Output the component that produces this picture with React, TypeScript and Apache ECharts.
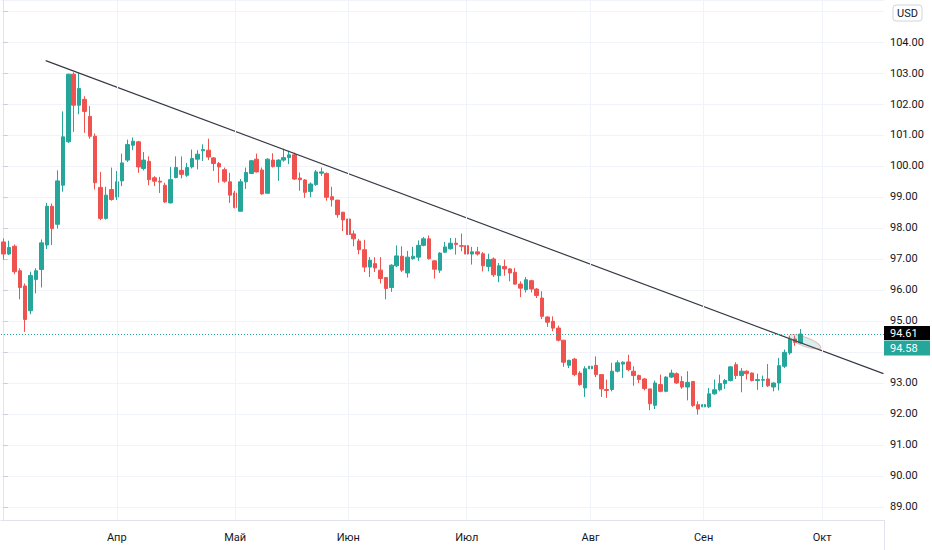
import React, { useEffect, useRef } from "react";
import * as echarts from "echarts";

// Month labels on the time axis and the number of trading bars in each month
const monthNames = ["", "Апр", "Май", "Июн", "Июл", "Авг", "Сен", "Окт"];
const monthBars = [21, 22, 21, 22, 23, 21, 22, 12];

const opens = [
  97.55, 97.16, 97.41, 96.62, 96.13, 95.33, 96.34, 96.66, 97.45, 98.7,
  98.12, 99.38, 100.78, 102.96, 101.96, 102.15, 101.6, 100.96, 99.31, 98.31,
  99.24, 99.0, 99.52, 100.19, 100.67, 100.78, 99.92, 100.15, 99.62, 99.51,
  99.38, 98.81, 99.63, 99.86, 99.7, 99.97, 100.22, 100.49, 100.51, 100.26,
  100.08, 99.88, 99.49, 99.13, 98.54, 99.49, 99.76, 100.22, 99.87, 99.12,
  100.19, 99.98, 100.19, 100.27, 100.36, 99.61, 99.55, 99.18, 99.4, 99.77,
  99.76, 99.01, 98.9, 98.51, 98.29, 97.81, 97.58, 97.3, 96.74, 96.85,
  96.64, 96.4, 96.08, 96.78, 97.09, 96.55, 97.01, 97.06, 97.44, 97.65,
  96.94, 96.64, 97.22, 97.33, 97.51, 97.43, 97.43, 97.16, 97.23, 97.17,
  96.76, 97.0, 96.46, 96.76, 96.68, 96.57, 96.19, 96.01, 96.3, 96.03,
  95.74, 95.13, 94.99, 94.77, 94.38, 93.57, 93.77, 93.32, 92.84, 93.46,
  93.57, 93.27, 92.79, 92.79, 93.38, 93.61, 93.68, 93.38, 93.24, 93.13,
  92.81, 92.28, 92.95, 92.73, 93.19, 93.3, 93.05, 92.87, 93.05, 92.3,
  92.23, 92.23, 92.65, 92.78, 92.98, 93.08, 93.59, 93.24, 93.38, 93.32,
  93.08, 93.09, 93.13, 92.87, 93.0, 93.54, 93.97, 94.42, 94.29,
];

const closes = [
  97.16, 97.37, 96.59, 96.08, 95.05, 96.47, 96.62, 97.52, 98.7, 97.98,
  99.52, 100.94, 102.96, 101.96, 102.5, 101.76, 100.96, 99.46, 98.31, 99.06,
  98.92, 99.49, 100.1, 100.69, 100.8, 99.97, 100.19, 99.56, 99.51, 99.48,
  98.84, 99.56, 99.95, 99.73, 99.95, 100.24, 100.38, 100.53, 100.29, 100.08,
  99.97, 99.51, 99.06, 98.66, 99.49, 99.79, 100.17, 99.81, 99.1, 100.22,
  99.98, 100.19, 100.27, 100.36, 99.58, 99.56, 99.15, 99.42, 99.81, 99.81,
  98.99, 98.91, 98.43, 98.26, 97.79, 97.65, 97.3, 96.74, 96.96, 96.71,
  96.37, 96.05, 96.8, 97.1, 96.64, 97.06, 97.09, 97.44, 97.65, 97.01,
  96.67, 97.19, 97.39, 97.51, 97.47, 97.41, 97.16, 97.23, 97.16, 96.78,
  96.98, 96.49, 96.78, 96.68, 96.55, 96.19, 96.06, 96.33, 96.03, 95.82,
  95.15, 94.96, 94.77, 94.38, 93.67, 93.73, 93.27, 92.95, 93.46, 93.54,
  93.27, 92.81, 92.76, 93.38, 93.65, 93.67, 93.43, 93.24, 93.11, 92.82,
  92.33, 93.0, 92.73, 93.19, 93.32, 93.0, 92.87, 93.02, 92.27, 92.16,
  92.3, 92.65, 92.78, 92.98, 93.08, 93.52, 93.24, 93.38, 93.3, 93.08,
  93.11, 93.11, 92.91, 93.0, 93.56, 93.99, 94.42, 94.31, 94.58,
];

const lows = [
  96.98, 97.13, 96.51, 95.7, 94.65, 95.22, 95.89, 96.08, 97.32, 97.45,
  97.98, 99.17, 100.74, 101.1, 101.67, 101.07, 100.88, 99.24, 98.25, 98.27,
  98.88, 98.9, 99.35, 100.13, 100.51, 99.78, 99.86, 99.38, 99.35, 99.13,
  98.81, 98.79, 99.6, 99.6, 99.65, 99.92, 99.89, 100.16, 100.19, 99.84,
  99.46, 99.46, 98.81, 98.63, 98.54, 99.26, 99.74, 99.79, 99.07, 99.12,
  99.95, 99.52, 100.14, 100.06, 99.55, 99.2, 98.97, 98.99, 99.36, 99.68,
  98.88, 98.69, 98.33, 97.9, 97.76, 97.41, 97.15, 96.58, 96.42, 96.58,
  96.21, 95.7, 95.94, 96.74, 96.58, 96.4, 96.98, 96.94, 97.41, 96.98,
  96.37, 96.55, 97.19, 97.3, 97.14, 97.25, 97.03, 96.82, 97.11, 96.6,
  96.6, 96.42, 96.25, 96.46, 96.28, 96.17, 95.77, 95.92, 95.92, 95.74,
  95.06, 94.81, 94.67, 94.34, 93.52, 93.48, 93.22, 92.91, 92.55, 93.3,
  93.19, 92.55, 92.52, 92.73, 93.34, 93.16, 93.38, 92.91, 93.0, 92.76,
  92.12, 92.16, 92.7, 92.7, 93.16, 92.97, 92.81, 92.44, 92.23, 91.98,
  91.73, 92.19, 92.62, 92.73, 92.81, 93.05, 93.13, 92.7, 93.11, 93.05,
  92.78, 92.87, 92.87, 92.73, 92.76, 93.48, 93.91, 94.2, 94.27,
];

const highs = [
  97.66, 97.59, 97.47, 96.7, 96.21, 96.59, 96.7, 97.63, 98.81, 98.79,
  99.86, 101.76, 102.98, 103.02, 103.0, 102.25, 101.93, 101.05, 99.81, 99.33,
  99.95, 99.84, 100.4, 100.85, 100.92, 100.81, 100.45, 100.31, 99.67, 99.65,
  99.46, 99.97, 100.31, 100.31, 100.1, 100.53, 100.51, 100.7, 100.88, 100.29,
  100.13, 99.95, 99.78, 99.2, 99.58, 99.95, 100.19, 100.4, 99.95, 100.25,
  100.41, 100.22, 100.56, 100.49, 100.43, 99.79, 99.58, 99.47, 99.87, 99.95,
  99.79, 99.33, 98.9, 98.51, 98.29, 97.92, 97.65, 97.62, 97.06, 97.06,
  97.06, 96.42, 96.83, 97.44, 97.41, 97.26, 97.39, 97.6, 97.71, 97.76,
  96.96, 97.22, 97.55, 97.68, 97.68, 97.82, 97.43, 97.39, 97.39, 97.22,
  97.17, 97.05, 96.87, 96.98, 96.71, 96.71, 96.28, 96.42, 96.33, 96.06,
  95.96, 95.15, 95.15, 94.85, 94.38, 93.75, 93.81, 93.38, 93.54, 94.02,
  93.86, 93.27, 93.11, 93.65, 93.73, 93.7, 93.91, 93.54, 93.27, 93.16,
  92.81, 93.08, 93.27, 93.22, 93.43, 93.34, 93.22, 93.38, 93.05, 92.41,
  92.52, 92.84, 93.11, 93.27, 93.13, 93.54, 93.67, 93.48, 93.41, 93.34,
  93.3, 93.24, 93.61, 93.02, 93.81, 94.08, 94.51, 94.53, 94.74,
];

// Trend line drawing: [bar index, price]
const trendStart = [7.8, 103.4];
const trendEnd = [163.4, 93.3];
// Highlight ellipse drawn on the breakout (bar index, price)
const ellipseCenter = [148.8, 94.33];

const lastPrice = 94.58;
const markerPrice = 94.61;
const currency = "USD";
// Price-scale labels that are covered by badges in the reference
const hiddenTicks = [94, 105];

const yMin = 88.58;
const yMax = 105.355;

const GRID_LEFT = 1;
const GRID_RIGHT = 48;
const GRID_BOTTOM = 30;
const FONT = 'Roboto, "Liberation Sans", sans-serif';
const TEXT = "#131722";
const UP = "#26a69a";
const DOWN = "#ef5350";

export default function App() {
  const ref = useRef<HTMLDivElement>(null);

  useEffect(() => {
    if (!ref.current) return;
    const chart = echarts.init(ref.current, undefined, { renderer: "svg" });

    const categories: string[] = [];
    const labelAt: Record<number, string> = {};
    const monthStarts: number[] = [];
    monthBars.forEach((n, m) => {
      if (monthNames[m]) {
        labelAt[categories.length] = monthNames[m];
        monthStarts.push(categories.length);
      }
      for (let d = 0; d < n; d++) categories.push(`${m}-${d}`);
    });
    const N = categories.length;

    const candles = opens.map((o, i) => [o, closes[i], lows[i], highs[i]]);

    chart.setOption({
      animation: false,
      backgroundColor: "#ffffff",
      grid: { left: GRID_LEFT, right: GRID_RIGHT, top: 0, bottom: GRID_BOTTOM, containLabel: false },
      xAxis: [
        {
          type: "category",
          data: categories,
          boundaryGap: true,
          axisLine: { show: true, lineStyle: { color: "#e0e3eb", width: 1 } },
          axisTick: { show: false },
          splitLine: { show: false },
          axisLabel: {
            interval: (idx: number) => labelAt[idx] !== undefined,
            formatter: (_v: string, idx: number) => labelAt[idx] ?? "",
            color: TEXT,
            fontSize: 11,
            fontFamily: FONT,
            margin: 12,
          },
        },
        {
          type: "value",
          min: -0.5,
          max: N - 0.5,
          show: false,
        },
      ],
      yAxis: {
        type: "value",
        position: "right",
        min: yMin,
        max: yMax,
        splitNumber: 16,
        minInterval: 1,
        maxInterval: 1,
        axisLine: { show: true, lineStyle: { color: "#e0e3eb" } },
        axisTick: { show: true, length: 4, lineStyle: { color: "#c9ccd4" } },
        splitLine: { show: true, lineStyle: { color: "#f0f3fa", width: 1 } },
        axisLabel: {
          showMinLabel: false,
          showMaxLabel: false,
          formatter: (v: number) =>
            hiddenTicks.some((h) => Math.abs(h - v) < 1e-6) ? "" : v.toFixed(2),
          color: TEXT,
          fontSize: 11,
          fontFamily: FONT,
          margin: 6,
        },
      },
      series: [
        {
          type: "line",
          xAxisIndex: 1,
          yAxisIndex: 0,
          z: 1,
          silent: true,
          symbol: "none",
          data: [[0, 95]],
          lineStyle: { opacity: 0 },
          markLine: {
            silent: true,
            symbol: "none",
            label: { show: false },
            lineStyle: { color: "#f0f3fa", type: "solid", width: 1 },
            data: monthStarts.map((i) => ({ xAxis: i })),
          },
        },
        {
          type: "candlestick",
          xAxisIndex: 0,
          yAxisIndex: 0,
          z: 2,
          barWidth: 4,
          data: candles,
          itemStyle: {
            color: UP,
            color0: DOWN,
            borderColor: UP,
            borderColor0: DOWN,
            borderWidth: 1,
          },
          markLine: {
            silent: true,
            symbol: "none",
            label: { show: false },
            lineStyle: { color: UP, type: [1, 2], width: 1 },
            data: [{ yAxis: lastPrice }],
          },
        },
        {
          type: "line",
          xAxisIndex: 1,
          yAxisIndex: 0,
          z: 3,
          silent: true,
          symbol: "none",
          data: [trendStart, trendEnd],
          lineStyle: { color: "#363a45", width: 1.2 },
        },
      ],
    });

    const W = chart.getWidth();
    const H = chart.getHeight();
    const plotRight = W - GRID_RIGHT;
    const plotBottom = H - GRID_BOTTOM;
    const yMarker = chart.convertToPixel({ yAxisIndex: 0 }, markerPrice) as number;
    const yLast = chart.convertToPixel({ yAxisIndex: 0 }, lastPrice) as number;
    const p0 = chart.convertToPixel({ seriesIndex: 2 }, trendStart) as number[];
    const p1 = chart.convertToPixel({ seriesIndex: 2 }, trendEnd) as number[];
    const ec = chart.convertToPixel({ seriesIndex: 2 }, ellipseCenter) as number[];
    const angle = Math.atan2(p1[1] - p0[1], p1[0] - p0[0]);
    const lastY = Math.max(yLast, yMarker + 15);

    chart.setOption({
      graphic: [
        {
          type: "line",
          shape: { x1: plotRight + 0.5, y1: plotBottom, x2: plotRight + 0.5, y2: H },
          style: { stroke: "#e0e3eb", lineWidth: 1 },
          silent: true,
        },
        {
          type: "ellipse",
          x: ec[0],
          y: ec[1],
          rotation: -angle,
          shape: { cx: 0, cy: 0, rx: 17, ry: 4.5 },
          style: { fill: "rgba(38,166,154,0.18)", stroke: "rgba(239,83,80,0.35)", lineWidth: 1 },
          z: 10,
          silent: true,
        },
        {
          type: "rect",
          x: plotRight,
          y: yMarker - 7,
          shape: { width: 46, height: 14 },
          style: { fill: "#000000" },
          z: 20,
        },
        {
          type: "text",
          x: plotRight + 6,
          y: yMarker,
          style: { text: markerPrice.toFixed(2), fill: "#ffffff", font: `11px ${FONT}`, verticalAlign: "middle" },
          z: 21,
        },
        {
          type: "rect",
          x: plotRight,
          y: lastY - 7.5,
          shape: { width: 46, height: 15 },
          style: { fill: UP },
          z: 20,
        },
        {
          type: "text",
          x: plotRight + 6,
          y: lastY,
          style: { text: lastPrice.toFixed(2), fill: "#ffffff", font: `11px ${FONT}`, verticalAlign: "middle" },
          z: 21,
        },
        {
          type: "rect",
          x: plotRight + 9,
          y: 5,
          shape: { width: 29, height: 16, r: 3 },
          style: { fill: "#ffffff", stroke: "#d1d4dc", lineWidth: 1 },
          z: 20,
        },
        {
          type: "text",
          x: plotRight + 23.5,
          y: 13,
          style: { text: currency, fill: TEXT, font: `11px ${FONT}`, align: "center", verticalAlign: "middle" },
          z: 21,
        },
      ],
    });

    return () => chart.dispose();
  }, []);

  return (
    <div
      ref={ref}
      style={{ position: "fixed", left: 0, top: 0, width: 932, height: 550, background: "#ffffff" }}
    />
  );
}
